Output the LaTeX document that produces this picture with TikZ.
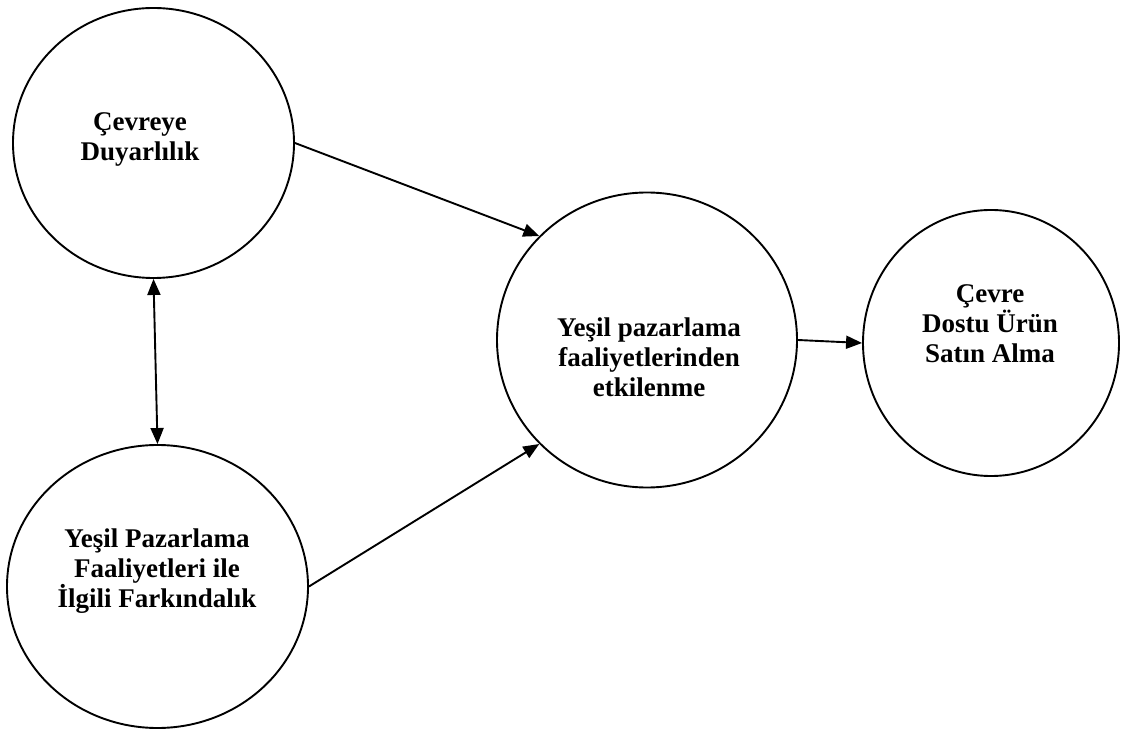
\documentclass[tikz,border=0pt]{standalone}
\usepackage{fontspec}
\setmainfont{Liberation Serif}
\usetikzlibrary{arrows.meta,shapes.geometric}
\begin{document}
\begin{tikzpicture}[x=1pt,y=1pt,
  bubble/.style={draw=black, line width=1.9pt, ellipse, inner sep=0pt},
  caption/.style={font=\fontsize{27}{30}\selectfont\bfseries, align=center, inner sep=0pt},
  tip/.style={Triangle[length=16pt,width=13pt]},
  link/.style={line width=1.9pt, -{Triangle[length=16pt,width=13pt]}},
  bothlink/.style={line width=1.9pt, {Triangle[length=16pt,width=13pt]}-{Triangle[length=16pt,width=13pt]}}]
\useasboundingbox (0,0) rectangle (1121,729);
% circles (y measured from the bottom edge)
\node[bubble, minimum width=281pt, minimum height=270pt] (c1) at (153.5,586) {};
\node[bubble, minimum width=301pt, minimum height=283pt] (c2) at (157.5,142.5) {};
\node[bubble, minimum width=300pt, minimum height=295pt] (c3) at (647,389) {};
\node[bubble, minimum width=256pt, minimum height=266pt] (c4) at (991,386) {};
% texts
\node[caption] (t1) at (140,590) {Çevreye\\Duyarlılık};
\node[caption] (t2) at (157,158) {Yeşil Pazarlama\\Faaliyetleri ile\\İlgili Farkındalık};
\node[caption] (t3) at (649,372) {Yeşil pazarlama\\faaliyetlerinden\\etkilenme};
\node[caption] (t4) at (990,405) {Çevre\\Dostu Ürün\\Satın Alma};
% connectors
\draw[link] (c1.east) -- (c3.136);
\draw[link] (c2.east) -- (c3.224);
\draw[link] (c3.east) -- (c4.west);
\draw[bothlink] (c1.south) -- (c2.north);
\end{tikzpicture}
\end{document}
